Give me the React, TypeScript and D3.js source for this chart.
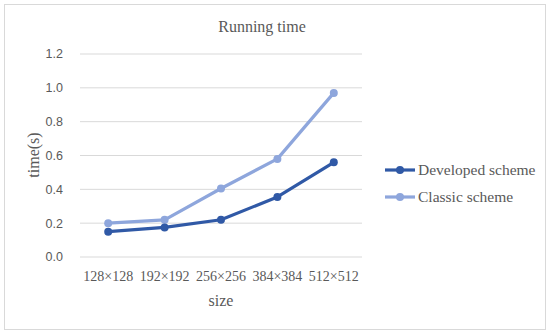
import React, { useEffect, useRef } from 'react';
import * as d3 from 'd3';

const sizes = ['128×128', '192×192', '256×256', '384×384', '512×512'];
const developed = [0.15, 0.175, 0.22, 0.355, 0.56];
const classic = [0.2, 0.22, 0.405, 0.58, 0.97];
const yTicks = [0, 0.2, 0.4, 0.6, 0.8, 1.0, 1.2];

const series = [
  { name: 'Developed scheme', values: developed, color: '#3059a6' },
  { name: 'Classic scheme', values: classic, color: '#8ea6dc' }
];

const App = () => {
  const ref = useRef<SVGSVGElement>(null);

  useEffect(() => {
    const svg = d3.select(ref.current);
    svg.selectAll('*').remove();

    const serif = "'Liberation Serif', serif";
    const sans = "'Liberation Sans', sans-serif";

    svg
      .append('rect')
      .attr('x', 4.5)
      .attr('y', 4.5)
      .attr('width', 541)
      .attr('height', 325)
      .attr('fill', '#fff')
      .attr('stroke', '#d9d9d9');

    const x = d3.scaleBand().domain(sizes).range([80, 362]);
    const y = d3.scaleLinear().domain([0, 1.2]).range([257, 54]);

    const grid = svg.append('g');
    grid
      .selectAll('line')
      .data(yTicks)
      .enter()
      .append('line')
      .attr('x1', 80)
      .attr('x2', 362)
      .attr('y1', d => y(d))
      .attr('y2', d => y(d))
      .attr('stroke', '#d9d9d9')
      .attr('stroke-width', 1);

    svg
      .append('g')
      .selectAll('text')
      .data(yTicks)
      .enter()
      .append('text')
      .attr('x', 63)
      .attr('y', d => y(d))
      .attr('dy', '0.35em')
      .attr('text-anchor', 'end')
      .attr('font-family', sans)
      .attr('font-size', 12.5)
      .attr('fill', '#595959')
      .text(d => d.toFixed(1));

    svg
      .append('g')
      .selectAll('text')
      .data(sizes)
      .enter()
      .append('text')
      .attr('x', d => (x(d) as number) + x.bandwidth() / 2)
      .attr('y', 281)
      .attr('text-anchor', 'middle')
      .attr('font-family', serif)
      .attr('font-size', 14)
      .attr('fill', '#595959')
      .text(d => d);

    svg
      .append('text')
      .attr('x', 221)
      .attr('y', 306)
      .attr('text-anchor', 'middle')
      .attr('font-family', serif)
      .attr('font-size', 16)
      .attr('fill', '#595959')
      .text('size');

    svg
      .append('text')
      .attr('transform', 'translate(39,155) rotate(-90)')
      .attr('text-anchor', 'middle')
      .attr('font-family', serif)
      .attr('font-size', 16)
      .attr('fill', '#595959')
      .text('time(s)');

    svg
      .append('text')
      .attr('x', 262)
      .attr('y', 32)
      .attr('text-anchor', 'middle')
      .attr('font-family', serif)
      .attr('font-size', 16)
      .attr('fill', '#595959')
      .text('Running time');

    const line = d3
      .line<number>()
      .x((_, i) => (x(sizes[i]) as number) + x.bandwidth() / 2)
      .y(d => y(d));

    [...series].reverse().forEach(s => {
      const g = svg.append('g');
      g.append('path')
        .attr('d', line(s.values))
        .attr('fill', 'none')
        .attr('stroke', s.color)
        .attr('stroke-width', 3.2)
        .attr('stroke-linejoin', 'round');
      g.selectAll('circle')
        .data(s.values)
        .enter()
        .append('circle')
        .attr('cx', (_, i) => (x(sizes[i]) as number) + x.bandwidth() / 2)
        .attr('cy', d => y(d))
        .attr('r', 4)
        .attr('fill', s.color);
    });

    const legend = svg
      .append('g')
      .selectAll('g')
      .data(series)
      .enter()
      .append('g')
      .attr('transform', (_, i) => `translate(385,${170 + i * 27})`);
    legend
      .append('line')
      .attr('x1', 0)
      .attr('x2', 30)
      .attr('stroke', d => d.color)
      .attr('stroke-width', 3.2);
    legend
      .append('circle')
      .attr('cx', 15)
      .attr('r', 4)
      .attr('fill', d => d.color);
    legend
      .append('text')
      .attr('x', 33)
      .attr('dy', '0.35em')
      .attr('font-family', serif)
      .attr('font-size', 15.5)
      .attr('fill', '#595959')
      .text(d => d.name);
  }, []);

  return (
    <svg
      ref={ref}
      width={550}
      height={333}
      style={{ position: 'absolute', left: 0, top: 0 }}
    />
  );
};

export default App;
